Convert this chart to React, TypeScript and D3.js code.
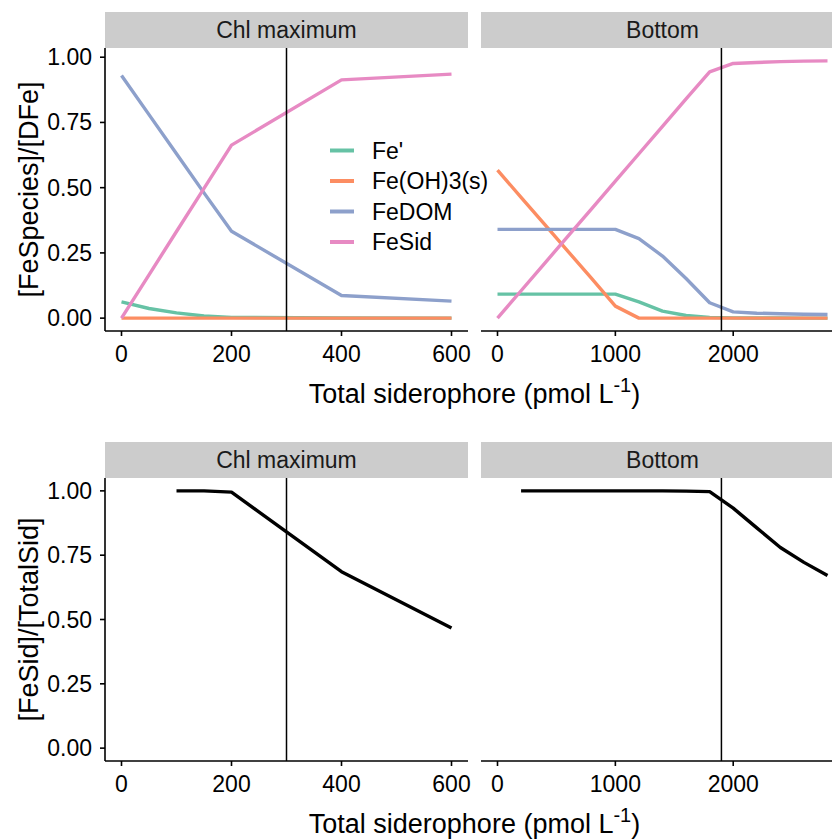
import React from "react";
import * as d3 from "d3";

// species fractions, Chl maximum
const chlX = [0, 50, 100, 150, 200, 400, 600];
const chlFe = [0.062, 0.037, 0.02, 0.008, 0.003, 0.0005, 0.0002];
const chlFeOH = [0, 0, 0, 0, 0, 0, 0];
const chlFeDOM = [0.93, 0.78, 0.63, 0.48, 0.333, 0.087, 0.065];
const chlFeSid = [0.0, 0.166, 0.332, 0.497, 0.663, 0.913, 0.935];

// species fractions, Bottom
const botX = [0, 200, 400, 600, 800, 1000, 1200, 1400, 1600, 1800, 2000, 2200, 2400, 2600, 2800];
const botFe = [0.092, 0.092, 0.092, 0.092, 0.092, 0.092, 0.062, 0.027, 0.01, 0.003, 0.001, 0.0005, 0.0003, 0.0002, 0.0001];
const botFeOH = [0.567, 0.463, 0.359, 0.255, 0.151, 0.046, 0, 0, 0, 0, 0, 0, 0, 0, 0];
const botFeDOM = [0.34, 0.34, 0.34, 0.34, 0.34, 0.34, 0.305, 0.238, 0.152, 0.059, 0.024, 0.019, 0.017, 0.015, 0.014];
const botFeSid = [0.0, 0.105, 0.21, 0.315, 0.42, 0.525, 0.63, 0.735, 0.84, 0.944, 0.976, 0.98, 0.983, 0.985, 0.986];

// FeSid / TotalSid
const chlRatioX = [100, 150, 200, 400, 600];
const chlRatio = [1.0, 1.0, 0.995, 0.686, 0.467];
const botRatioX = [200, 400, 600, 800, 1000, 1200, 1400, 1600, 1800, 2000, 2200, 2400, 2600, 2800];
const botRatio = [1.0, 1.0, 1.0, 1.0, 1.0, 1.0, 1.0, 0.999, 0.997, 0.933, 0.856, 0.78, 0.722, 0.671];

const speciesNames = ["Fe'", "Fe(OH)3(s)", "FeDOM", "FeSid"];
const speciesColors = ["#66C2A5", "#FC8D62", "#8DA0CB", "#E78AC3"];
const facetNames = ["Chl maximum", "Bottom"];
const dfeLines = [300, 1900];
const xMax = [600, 2800];
const xTicks = [[0, 200, 400, 600], [0, 1000, 2000]];
const yTicks = [0, 0.25, 0.5, 0.75, 1];

const FONT = "'Liberation Sans', Arial, sans-serif";

const W = 832;
const H = 840;
const panelW = 363;
const panelX = [105, 481];

type Series = { x: number[]; y: number[]; color: string }[];

function Row({
  top,
  yMax,
  series,
  yTitle,
  legend,
}: {
  top: number;
  yMax: number;
  series: Series[];
  yTitle: string;
  legend?: boolean;
}) {
  const stripH = 36;
  const panelTop = top + stripH;
  const panelH = 283;
  const panelBottom = panelTop + panelH;
  const y = d3
    .scaleLinear()
    .domain([-0.05 * yMax, yMax * 1.05])
    .range([panelBottom, panelTop]);

  return (
    <g>
      {facetNames.map((name, i) => {
        const x = d3
          .scaleLinear()
          .domain([-0.05 * xMax[i], xMax[i] * 1.05])
          .range([panelX[i], panelX[i] + panelW]);
        const line = d3
          .line<[number, number]>()
          .x((d) => x(d[0]))
          .y((d) => y(d[1]));
        return (
          <g key={name}>
            <rect x={panelX[i]} y={top} width={panelW} height={stripH} fill="#CCCCCC" />
            <text
              x={panelX[i] + panelW / 2}
              y={top + stripH / 2}
              dy="0.35em"
              textAnchor="middle"
              fontSize={23}
              fill="#1A1A1A"
            >
              {name}
            </text>
            {series[i].map((s, k) => (
              <path
                key={k}
                d={line(s.x.map((v, j) => [v, s.y[j]] as [number, number])) || ""}
                fill="none"
                stroke={s.color}
                strokeWidth={3.4}
                strokeLinejoin="round"
              />
            ))}
            <line
              x1={x(dfeLines[i])}
              x2={x(dfeLines[i])}
              y1={panelTop}
              y2={panelBottom}
              stroke="#000"
              strokeWidth={1.5}
            />
            {/* x axis */}
            <line x1={panelX[i]} x2={panelX[i] + panelW} y1={panelBottom} y2={panelBottom} stroke="#000" strokeWidth={1.6} />
            {xTicks[i].map((t) => (
              <g key={t}>
                <line x1={x(t)} x2={x(t)} y1={panelBottom} y2={panelBottom + 5} stroke="#000" strokeWidth={1.6} />
                <text x={x(t)} y={panelBottom + 31} textAnchor="middle" fontSize={23} fill="#000">
                  {t}
                </text>
              </g>
            ))}
            {/* y axis */}
            {i === 0 && (
              <g>
                <line x1={panelX[0]} x2={panelX[0]} y1={panelTop} y2={panelBottom} stroke="#000" strokeWidth={1.6} />
                {yTicks.map((t) => (
                  <g key={t}>
                    <line x1={panelX[0] - 5} x2={panelX[0]} y1={y(t)} y2={y(t)} stroke="#000" strokeWidth={1.6} />
                    <text x={panelX[0] - 13} y={y(t)} dy="0.35em" textAnchor="end" fontSize={23} fill="#000">
                      {t.toFixed(2)}
                    </text>
                  </g>
                ))}
              </g>
            )}
          </g>
        );
      })}
      <text
        transform={`translate(38,${(panelTop + panelBottom) / 2}) rotate(-90)`}
        textAnchor="middle"
        fontSize={27}
        fill="#000"
      >
        {yTitle}
      </text>
      <text x={(panelX[0] + panelX[1] + panelW) / 2} y={panelBottom + 72} textAnchor="middle" fontSize={27} fill="#000">
        Total siderophore (pmol L
        <tspan fontSize={20} dy={-11}>-1</tspan>
        <tspan dy={11}>)</tspan>
      </text>
      {legend &&
        speciesNames.map((n, k) => (
          <g key={n} transform={`translate(330,${150.5 + k * 30.5})`}>
            <line x1={0} x2={24} y1={0} y2={0} stroke={speciesColors[k]} strokeWidth={4} />
            <text x={42} y={0} dy="0.35em" fontSize={23} fill="#000">
              {n}
            </text>
          </g>
        ))}
    </g>
  );
}

export default function App() {
  const topSeries: Series[] = [
    [chlFe, chlFeOH, chlFeDOM, chlFeSid].map((v, k) => ({ x: chlX, y: v, color: speciesColors[k] })),
    [botFe, botFeOH, botFeDOM, botFeSid].map((v, k) => ({ x: botX, y: v, color: speciesColors[k] })),
  ];
  const bottomSeries: Series[] = [
    [{ x: chlRatioX, y: chlRatio, color: "#000" }],
    [{ x: botRatioX, y: botRatio, color: "#000" }],
  ];
  return (
    <svg
      width={W}
      height={H}
      style={{ position: "absolute", left: 0, top: 0, background: "#fff" }}
      fontFamily={FONT}
    >
      <rect width={W} height={H} fill="#fff" />
      <Row top={12} yMax={0.986} series={topSeries} yTitle="[FeSpecies]/[DFe]" legend />
      <Row top={442} yMax={1} series={bottomSeries} yTitle="[FeSid]/[TotalSid]" />
    </svg>
  );
}
